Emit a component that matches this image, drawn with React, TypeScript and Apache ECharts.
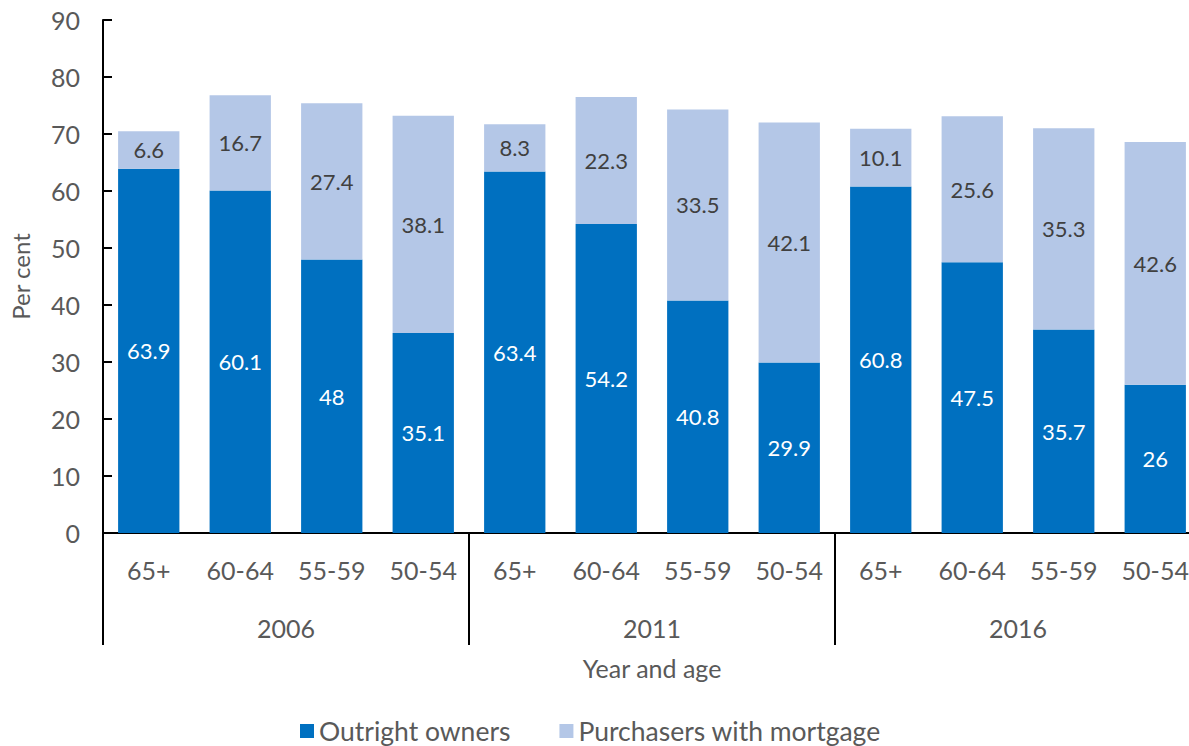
import React, { useEffect, useRef } from "react";
import * as echarts from "echarts";

const years = ["2006", "2011", "2016"];
const ages = ["65+", "60-64", "55-59", "50-54"];
const categories = years.flatMap((y) => ages.map((a) => `${a}|${y}`));
const outrightOwners = [63.9, 60.1, 48, 35.1, 63.4, 54.2, 40.8, 29.9, 60.8, 47.5, 35.7, 26];
const purchasersWithMortgage = [6.6, 16.7, 27.4, 38.1, 8.3, 22.3, 33.5, 42.1, 10.1, 25.6, 35.3, 42.6];
const yTicks = { min: 0, max: 90, interval: 10 };

const FONT = "Lato, 'Open Sans', sans-serif";
const GREY = "#595959";

export default function App() {
  const ref = useRef<HTMLDivElement>(null);
  useEffect(() => {
    if (!ref.current) return;
    const chart = echarts.init(ref.current, null, { renderer: "svg" });
    chart.setOption({
      animation: false,
      textStyle: { fontFamily: FONT },
      legend: {
        left: 300,
        top: 716,
        padding: 0,
        icon: "rect",
        itemWidth: 14,
        itemHeight: 14,
        itemGap: 49,
        textStyle: { fontFamily: FONT, fontSize: 26.5, lineHeight: 30, color: GREY },
        data: ["Outright owners", "Purchasers with mortgage"],
      },
      grid: { left: 103, top: 20, bottom: 213, right: 0 },
      xAxis: [
        {
          type: "category",
          data: categories,
          position: "bottom",
          axisLine: { show: true, lineStyle: { color: "#000", width: 2 } },
          axisTick: { show: false },
          axisLabel: {
            color: GREY,
            fontFamily: FONT,
            fontSize: 25,
            lineHeight: 25,
            margin: 24,
            formatter: (v: string) => v.split("|")[0],
          },
        },
        {
          type: "category",
          data: years,
          position: "bottom",
          axisLine: { show: false },
          axisTick: { show: true, length: 112, lineStyle: { color: "#000", width: 2 } },
          axisLabel: {
            color: GREY,
            fontFamily: FONT,
            fontSize: 25,
            lineHeight: 25,
            margin: 82,
          },
          name: "Year and age",
          nameLocation: "middle",
          nameGap: 122,
          nameTextStyle: { color: GREY, fontFamily: FONT, fontSize: 25, lineHeight: 25 },
        },
      ],
      yAxis: {
        type: "value",
        min: yTicks.min,
        max: yTicks.max,
        interval: yTicks.interval,
        splitLine: { show: false },
        axisLine: { show: true, lineStyle: { color: "#000", width: 2 } },
        axisTick: { show: true, inside: true, length: 9, lineStyle: { color: "#000", width: 2 } },
        axisLabel: { color: GREY, fontFamily: FONT, fontSize: 25, margin: 23 },
        name: "Per cent",
        nameLocation: "middle",
        nameGap: 71,
        nameRotate: 90,
        nameTextStyle: { color: GREY, fontFamily: FONT, fontSize: 24 },
      },
      series: [
        {
          name: "Outright owners",
          type: "bar",
          stack: "total",
          xAxisIndex: 0,
          data: outrightOwners,
          barCategoryGap: "33%",
          itemStyle: { color: "#0070C0" },
          label: {
            show: true,
            position: "inside",
            color: "#ffffff",
            fontFamily: FONT,
            fontSize: 22,
          },
        },
        {
          name: "Purchasers with mortgage",
          type: "bar",
          stack: "total",
          xAxisIndex: 0,
          data: purchasersWithMortgage,
          barCategoryGap: "33%",
          itemStyle: { color: "#B4C7E7" },
          label: {
            show: true,
            position: "inside",
            color: "#404040",
            fontFamily: FONT,
            fontSize: 22,
          },
        },
      ],
    });
    return () => chart.dispose();
  }, []);
  return (
    <div style={{ width: 1189, height: 746, position: "absolute", left: 0, top: 0, overflow: "hidden" }}>
      <div ref={ref} style={{ width: 1201, height: 746 }} />
    </div>
  );
}
